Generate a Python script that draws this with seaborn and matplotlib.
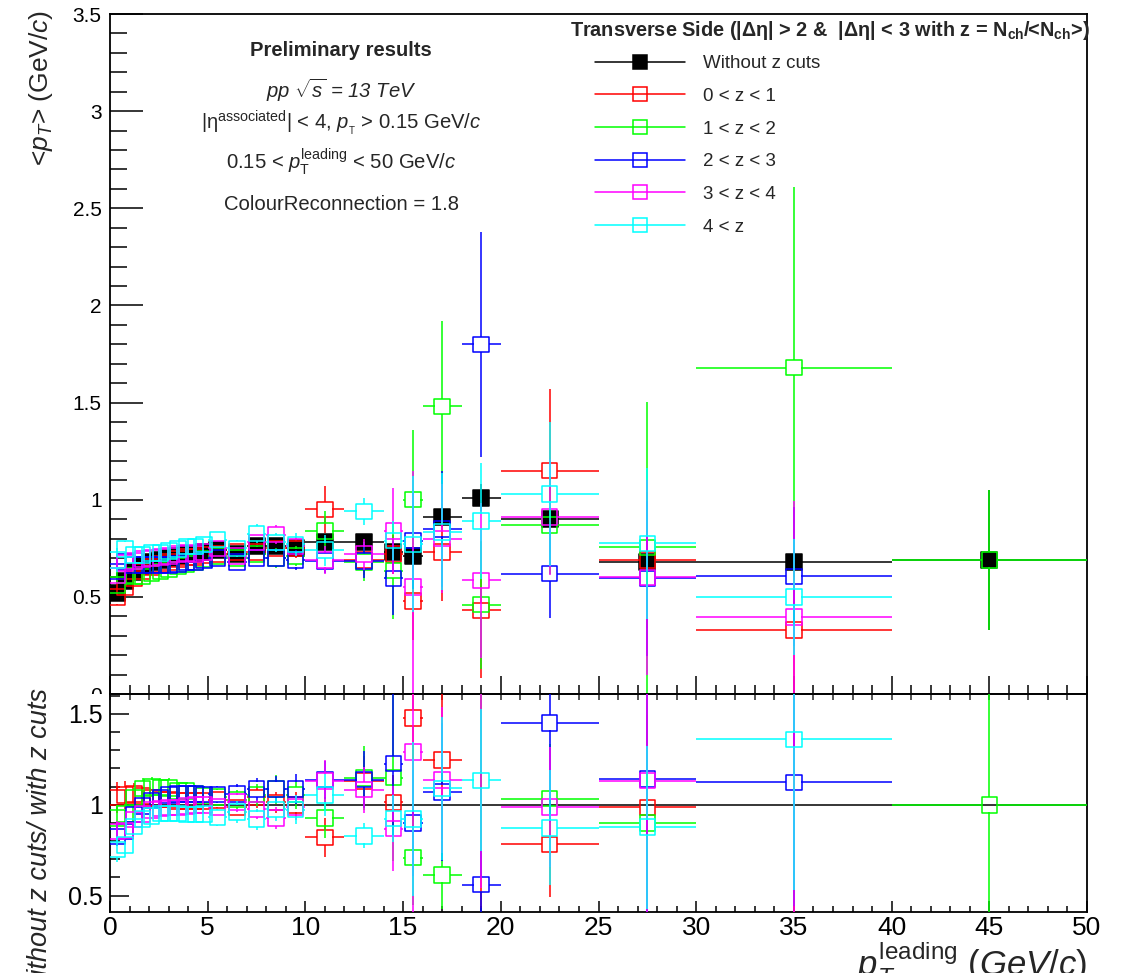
import numpy as np
import pandas as pd
import matplotlib
matplotlib.use("Agg")
import matplotlib.pyplot as plt
from matplotlib.lines import Line2D
from matplotlib.patches import Rectangle
from matplotlib.ticker import MultipleLocator
import seaborn as sns

nan = np.nan

# --- data ---

bin_edges = [0.15, 0.55, 1.0, 1.45, 1.9, 2.35, 2.8, 3.25, 3.7, 4.15, 4.6, 5.0,
             6, 7, 8, 9, 10, 12, 14, 15, 16, 18, 20, 25, 30, 40, 50]

series_names = ["Without z cuts", "0 < z < 1", "1 < z < 2", "2 < z < 3", "3 < z < 4", "4 < z"]
series_colors = ["#000000", "#ff0000", "#00ff00", "#0000ff", "#ff00ff", "#00ffff"]

pt_nocut = [0.52, 0.58, 0.63, 0.66, 0.68, 0.69, 0.70, 0.71, 0.72, 0.72, 0.73,
            0.74, 0.72, 0.76, 0.76, 0.75, 0.78, 0.78, 0.73, 0.71, 0.91, 1.01,
            0.90, 0.68, 0.68, 0.69]
err_nocut = [0.01, 0.008, 0.007, 0.006, 0.006, 0.006, 0.006, 0.006, 0.007, 0.007, 0.008,
             0.008, 0.01, 0.012, 0.015, 0.018, 0.02, 0.03, 0.04, 0.05, 0.05, 0.07,
             0.05, 0.06, 0.08, 0.36]

pt_z01 = [0.50, 0.55, 0.595, 0.63, 0.655, 0.67, 0.68, 0.695, 0.705, 0.705, 0.715,
          0.72, 0.73, 0.73, 0.75, 0.75, 0.95, 0.69, 0.72, 0.48, 0.73, 0.43,
          1.15, 0.69, 0.33, nan]
err_z01 = [0.04, 0.04, 0.035, 0.03, 0.03, 0.025, 0.025, 0.025, 0.025, 0.025, 0.025,
           0.03, 0.03, 0.04, 0.04, 0.05, 0.12, 0.08, 0.10, 0.20, 0.25, 0.35,
           0.42, 0.35, 0.45, nan]

pt_z12 = [0.56, 0.61, 0.605, 0.605, 0.62, 0.63, 0.64, 0.66, 0.67, 0.68, 0.695,
          0.71, 0.70, 0.72, 0.70, 0.71, 0.84, 0.68, 0.635, 1.00, 1.48, 0.46,
          0.87, 0.755, 1.68, 0.69]
err_z12 = [0.04, 0.035, 0.03, 0.03, 0.03, 0.03, 0.03, 0.03, 0.03, 0.03, 0.03,
           0.03, 0.035, 0.04, 0.05, 0.05, 0.10, 0.10, 0.25, 0.36, 0.44, 0.33,
           0.25, 0.75, 0.93, 0.36]

pt_z23 = [0.63, 0.68, 0.665, 0.665, 0.665, 0.665, 0.665, 0.67, 0.68, 0.68, 0.69,
          0.70, 0.68, 0.70, 0.70, 0.69, 0.685, 0.685, 0.595, 0.79, 0.85, 1.80,
          0.62, 0.595, 0.605, nan]
err_z23 = [0.04, 0.03, 0.025, 0.025, 0.025, 0.025, 0.025, 0.025, 0.025, 0.03, 0.03,
           0.03, 0.035, 0.04, 0.045, 0.05, 0.06, 0.09, 0.19, 0.25, 0.30, 0.58,
           0.23, 0.40, 0.36, nan]

pt_z34 = [0.61, 0.675, 0.685, 0.695, 0.70, 0.705, 0.71, 0.72, 0.725, 0.72, 0.73,
          0.75, 0.71, 0.78, 0.82, 0.76, 0.69, 0.72, 0.84, 0.55, 0.80, 0.585,
          0.91, 0.60, 0.395, nan]
err_z34 = [0.04, 0.03, 0.025, 0.025, 0.025, 0.025, 0.025, 0.025, 0.025, 0.03, 0.03,
           0.03, 0.035, 0.04, 0.05, 0.05, 0.07, 0.08, 0.22, 0.60, 0.28, 0.40,
           0.30, 0.50, 0.60, nan]

pt_z4 = [0.69, 0.745, 0.715, 0.715, 0.725, 0.725, 0.735, 0.745, 0.76, 0.76, 0.77,
         0.795, 0.75, 0.825, 0.78, 0.77, 0.74, 0.94, 0.79, 0.77, 0.835, 0.89,
         1.03, 0.775, 0.50, nan]
err_z4 = [0.06, 0.04, 0.03, 0.03, 0.03, 0.03, 0.03, 0.03, 0.03, 0.035, 0.035,
          0.04, 0.045, 0.05, 0.05, 0.06, 0.08, 0.07, 0.10, 0.35, 0.30, 0.30,
          0.37, 0.39, 0.30, nan]

all_pt = [pt_nocut, pt_z01, pt_z12, pt_z23, pt_z34, pt_z4]
all_err = [err_nocut, err_z01, err_z12, err_z23, err_z34, err_z4]

# --- build long table, ratio = without cuts / with cuts ---

edges = np.array(bin_edges)
centers = 0.5 * (edges[1:] + edges[:-1])
half_w = 0.5 * (edges[1:] - edges[:-1])
ref = np.array(pt_nocut)
ref_e = np.array(err_nocut)

frames = []
for name, vals, errs in zip(series_names, all_pt, all_err):
    v = np.array(vals)
    e = np.array(errs)
    r = ref / v
    r_e = r * np.sqrt((ref_e / ref) ** 2 + (e / v) ** 2)
    frames.append(pd.DataFrame({"series": name, "x": centers, "xerr": half_w,
                                "pt": v, "pt_err": e, "ratio": r, "ratio_err": r_e}))
df = pd.concat(frames, ignore_index=True)

# --- style ---

sns.set_style("ticks")
plt.rcParams["font.family"] = ["Liberation Sans", "DejaVu Sans"]
plt.rcParams["mathtext.fontset"] = "custom"
plt.rcParams["mathtext.rm"] = "Liberation Sans"
plt.rcParams["mathtext.it"] = "Liberation Sans:italic"
plt.rcParams["mathtext.bf"] = "Liberation Sans:bold"
plt.rcParams["axes.linewidth"] = 1.3

W, H = 1127, 973
TOP_LIM = (0, 3.5)
BOT_LIM = (0.41, 1.61)

fig = plt.figure(figsize=(W / 100, H / 100), dpi=100)
ax_top = fig.add_axes([110 / W, 1 - 694 / H, 977 / W, 680 / H])
ax_bot = fig.add_axes([110 / W, 1 - 912 / H, 977 / W, 218 / H])

# marker half size (7.5 px) in data units, ROOT leaves this gap in the error lines
HALF_PX = 7.5
gap_x = HALF_PX * 50 / 977
gap_top = HALF_PX * (TOP_LIM[1] - TOP_LIM[0]) / 680
gap_bot = HALF_PX * (BOT_LIM[1] - BOT_LIM[0]) / 218


def root_errors(ax, d, ycol, ecol, color, gap_y, ylim, z):
    x = d["x"].to_numpy()
    y = d[ycol].to_numpy()
    w = d["xerr"].to_numpy()
    e = d[ecol].to_numpy()
    m = e > gap_y
    ax.vlines(x[m], y[m] - e[m], y[m] - gap_y, colors=color, lw=1.1, zorder=z)
    ax.vlines(x[m], y[m] + gap_y, y[m] + e[m], colors=color, lw=1.1, zorder=z)
    # points whose centre is off the frame keep only their vertical error line
    m = (w > gap_x) & (y >= ylim[0]) & (y <= ylim[1])
    ax.hlines(y[m], x[m] - w[m], x[m] - gap_x, colors=color, lw=1.1, zorder=z)
    ax.hlines(y[m], x[m] + gap_x, x[m] + w[m], colors=color, lw=1.1, zorder=z)


ax_bot.axhline(1.0, color="black", lw=1.1, zorder=1)

for i, (name, color) in enumerate(zip(series_names, series_colors)):
    sub = df[df["series"] == name]
    face = color if i == 0 else "none"
    z = 2 + i
    top = sub.dropna(subset=["pt"])
    root_errors(ax_top, top, "pt", "pt_err", color, gap_top, TOP_LIM, z)
    sns.scatterplot(data=top, x="x", y="pt", marker="s", s=125, facecolor=face,
                    edgecolor=color, linewidth=1.1, ax=ax_top, zorder=z + 0.5, legend=False)
    if i == 0:
        continue
    bot = sub.dropna(subset=["ratio"])
    root_errors(ax_bot, bot, "ratio", "ratio_err", color, gap_bot, BOT_LIM, z)
    shown = bot[(bot["ratio"] >= BOT_LIM[0]) & (bot["ratio"] <= BOT_LIM[1])]
    sns.scatterplot(data=shown, x="x", y="ratio", marker="s", s=125, facecolor="none",
                    edgecolor=color, linewidth=1.1, ax=ax_bot, zorder=z + 0.5, legend=False)

# --- axes ---

for ax in (ax_top, ax_bot):
    ax.set_xlim(0, 50)
    ax.set_xlabel("")
    ax.set_ylabel("")
    ax.xaxis.set_major_locator(MultipleLocator(5))
    ax.xaxis.set_minor_locator(MultipleLocator(1))
    ax.yaxis.set_major_locator(MultipleLocator(0.5))
    ax.yaxis.set_minor_locator(MultipleLocator(0.1))
    ax.tick_params(which="both", direction="in", width=1.1, colors="black",
                   top=False, right=False)
    for sp in ax.spines.values():
        sp.set_visible(True)
        sp.set_color("black")

ax_top.set_ylim(*TOP_LIM)
ax_top.set_yticks([0, 0.5, 1, 1.5, 2, 2.5, 3, 3.5])
ax_top.set_yticklabels(["0", "0.5", "1", "1.5", "2", "2.5", "3", "3.5"])
ax_top.tick_params(axis="y", which="major", length=24, labelsize=15, pad=6)
ax_top.tick_params(axis="y", which="minor", length=12)
ax_top.tick_params(axis="x", which="major", length=13, labelbottom=False)
ax_top.tick_params(axis="x", which="minor", length=6.5)

ax_bot.set_ylim(*BOT_LIM)
ax_bot.set_yticks([0.5, 1, 1.5])
ax_bot.set_yticklabels(["0.5", "1", "1.5"])
ax_bot.set_xticks([0, 5, 10, 15, 20, 25, 30, 35, 40, 45, 50])
ax_bot.set_xticklabels(["0", "5", "10", "15", "20", "25", "30", "35", "40", "45", "50"])
ax_bot.tick_params(axis="y", which="major", length=14, labelsize=18, pad=5)
ax_bot.tick_params(axis="y", which="minor", length=7)
ax_bot.tick_params(axis="x", which="major", length=8, labelsize=19, pad=3)
ax_bot.tick_params(axis="x", which="minor", length=4)
sec = ax_bot.secondary_xaxis("top")
sec.xaxis.set_major_locator(MultipleLocator(1))
sec.tick_params(which="both", direction="in", length=4.3, width=1.1, labeltop=False)

# hide the lower half of the top pad's "0" label like the ROOT lower pad does
ax_bot.add_patch(Rectangle((0, 0), 107 / W, 1 - 694 / H, transform=fig.transFigure,
                           facecolor="white", edgecolor="none", clip_on=False, zorder=-1))

# --- texts ---

fig.text(41 / W, 1 - 10 / H, r"<$p_{T}$> (GeV/$c$)", rotation=90, ha="center", va="top",
         fontsize=19)
fig.text(40 / W, 1 - 688 / H, "Without z cuts/ with z cuts", rotation=90, ha="center",
         va="top", fontsize=19.5, style="italic")
fig.text(1087 / W, -3 / H, r"$p_{T}^{\rm leading}$ $(GeV/c)$", ha="right", va="baseline",
         fontsize=25)

cx = 341 / W
fs_info = 14.6
fig.text(cx, 1 - 51 / H, "Preliminary results", ha="center", va="center",
         fontsize=fs_info, fontweight="bold")
fig.text(cx, 1 - 90 / H, r"$pp$ $\sqrt{s}$ = 13 TeV", ha="center", va="center",
         fontsize=fs_info, style="italic")
fig.text(cx, 1 - 123 / H, r"|η$^{\rm associated}$| < 4, $p_{_{\rm T}}$ > 0.15 GeV/$c$",
         ha="center", va="center", fontsize=fs_info)
fig.text(cx, 1 - 162 / H, r"0.15 < $p_{\rm T}^{\rm leading}$ < 50 GeV/$c$",
         ha="center", va="center", fontsize=fs_info)
fig.text(cx, 1 - 205 / H, "ColourReconnection = 1.8", ha="center", va="center",
         fontsize=fs_info)

fig.text(570 / W, 1 - 30 / H,
         r"Transverse Side (|Δη| > 2 &  |Δη| < 3 with z = N$_{\bf ch}$/<N$_{\bf ch}$>)",
         ha="left", va="center", fontsize=14.3, fontweight="bold")

handles = []
for i, color in enumerate(series_colors):
    handles.append(Line2D([0], [0], color=color, lw=1.1, marker="s", markersize=10.5,
                          markerfacecolor=color if i == 0 else "none",
                          markeredgecolor=color, markeredgewidth=1.1))
ax_top.legend(handles, series_names, loc="upper left", bbox_to_anchor=(595 / W, 1 - 55 / H),
              bbox_transform=fig.transFigure, frameon=False, fontsize=13.5,
              handlelength=4.8, handletextpad=0.95, labelspacing=0.83,
              borderpad=0, borderaxespad=0)

fig.savefig("out.png", dpi=100)
